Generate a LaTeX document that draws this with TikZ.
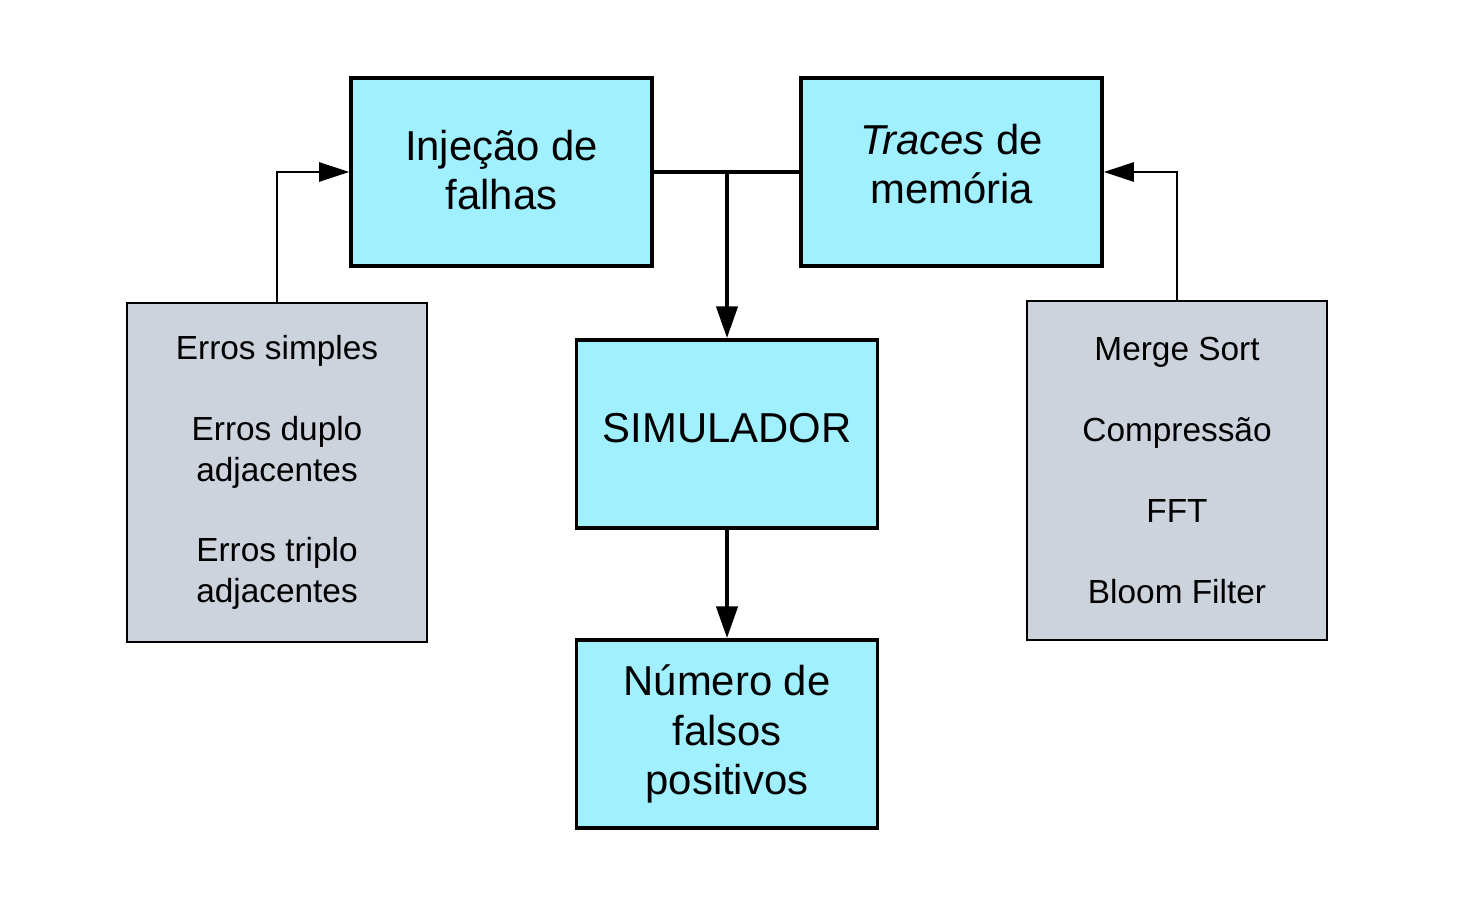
\documentclass[tikz,border=0pt]{standalone}
\usepackage{fontspec}
\setmainfont{Liberation Sans}
\usetikzlibrary{arrows.meta}
\definecolor{ciano}{HTML}{A0F0FF}
\definecolor{cinza}{HTML}{CDD3DC}
\newcommand{\subir}[2]{\raisebox{#1}[\height][\depth]{#2}}
\tikzset{
	bloco/.style={draw, fill=ciano, line width=2.2pt, minimum width=6.02cm, minimum height=3.76cm, inner sep=0pt, align=center, font=\fontsize{23.8pt}{28.4pt}\selectfont},
	lista/.style={draw, fill=cinza, line width=1pt, minimum width=6cm, minimum height=6.78cm, inner sep=0pt, align=center, font=\fontsize{19pt}{23pt}\selectfont},
	grosso/.style={line width=2.2pt, -{Triangle[length=18pt,width=12pt]}},
	fino/.style={line width=1pt, -{Triangle[length=17pt,width=11pt]}}
}
\begin{document}
\begin{tikzpicture}[x=0.02cm, y=-0.02cm, line join=miter]
	\useasboundingbox (0,0) rectangle (1459,911);
	\node[bloco] (inj) at (501.5,172) {\subir{1.1pt}{Injeção de}\\\subir{1.1pt}{falhas}};
	\node[bloco] (tr) at (951.5,172) {\subir{4.5pt}{\textit{Traces} de}\\\subir{4.5pt}{memória}};
	\node[bloco] (sim) at (727,434) {\subir{3.4pt}{SIMULADOR}};
	\node[bloco] (num) at (727,734) {Número de\\falsos\\positivos};
	\node[lista] (erros) at (277,472.5) {Erros simples\\ \\Erros duplo\\adjacentes\\ \\Erros triplo\\adjacentes};
	\node[lista] (apps) at (1177,470.5) {Merge Sort\\ \\Compressão\\ \\FFT\\ \\Bloom Filter};
	\coordinate (juncao) at (727,172);
	\draw[line width=2.2pt] (inj.east) -- (tr.west);
	\draw[grosso] (juncao) -- (sim.north);
	\draw[grosso] (sim.south) -- (num.north);
	\draw[fino] (erros.north) |- (inj.west);
	\draw[fino] (apps.north) |- (tr.east);
\end{tikzpicture}
\end{document}
